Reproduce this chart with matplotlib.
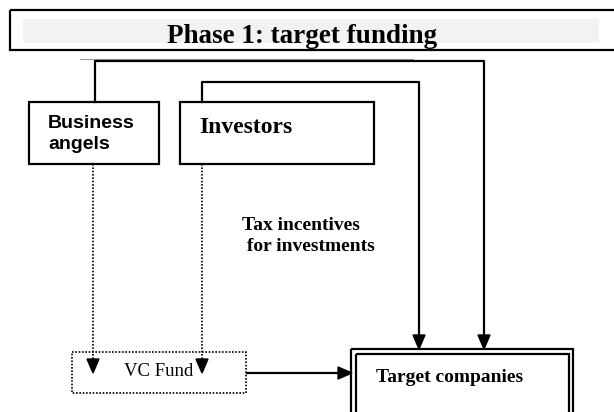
"""
Diagrama: Phase 1 - target funding
"""

import matplotlib.pyplot as plt
from matplotlib.patches import Rectangle, Polygon

# Textos do diagrama
titulo = 'Phase 1: target funding'
fontes = ['Business\nangels', 'Investors']
fundo = 'VC Fund'
alvo = 'Target companies'
incentivo = 'Tax incentives\n for investments'

fig = plt.figure(figsize=(6.14, 4.12), dpi=100)
ax = fig.add_axes([0, 0, 1, 1])
ax.set_xlim(0, 614)
ax.set_ylim(412, 0)
ax.axis('off')

serif = 'Liberation Serif'
sans = 'Liberation Sans'


def seta(x, y):
    # cabeça de seta apontando para baixo, ponta em (x, y)
    ax.add_patch(Polygon([(x - 6, y - 14), (x + 6, y - 14), (x, y)], closed=True,
                         color='black', zorder=3))


def seta_dir(x, y):
    ax.add_patch(Polygon([(x - 14, y - 6), (x - 14, y + 6), (x, y)], closed=True,
                         color='black', zorder=3))


# Caixa do título
ax.add_patch(Rectangle((10, 10), 620, 40, fill=False, lw=1.6, ec='black'))
ax.add_patch(Rectangle((23, 19), 576, 24, fc='#f2f2f2', ec='none'))
ax.text(302, 36, titulo, ha='center', va='center', fontsize=19.5,
        fontweight='bold', family=serif)
ax.plot([80, 413], [58.5, 58.5], color='#999999', lw=0.8)

# Caixas das fontes
ax.add_patch(Rectangle((29, 102), 130, 62, fill=False, lw=1.6, ec='black'))
ax.add_patch(Rectangle((180, 102), 194, 62, fill=False, lw=1.6, ec='black'))
ax.text(48, 134, fontes[0], ha='left', va='center', fontsize=14,
        fontweight='bold', family=sans, linespacing=1.35)
ax.text(199, 127, fontes[1], ha='left', va='center', fontsize=17,
        fontweight='bold', family=serif)

# Conexões diretas para as empresas-alvo
ax.plot([95, 95, 484, 484], [102, 61, 61, 340], color='black', lw=1.6)
ax.plot([202, 202, 419, 419], [102, 82, 82, 340], color='black', lw=1.6)
seta(484, 349)
seta(419, 349)

# Conexões pontilhadas para o fundo
ax.plot([93, 93], [164, 362], color='black', lw=1.2, ls=(0, (1, 1)))
ax.plot([202, 202], [164, 362], color='black', lw=1.2, ls=(0, (1, 1)))
seta(93, 373)
seta(202, 373)

# Caixa do fundo
ax.add_patch(Rectangle((72, 352), 174, 41, fill=False, lw=1.2, ec='black',
                       ls=(0, (1, 1))))
ax.text(159, 372, fundo, ha='center', va='center', fontsize=13.5, family=serif)
ax.plot([247, 340], [373, 373], color='black', lw=1.6)
seta_dir(352, 373)

# Caixa das empresas-alvo (borda dupla)
ax.add_patch(Rectangle((351, 349), 222, 80, fill=False, lw=1.6, ec='black'))
ax.add_patch(Rectangle((355.5, 353.5), 213, 70, fill=False, lw=1.6, ec='black'))
ax.text(376, 377, alvo, ha='left', va='center', fontsize=14,
        fontweight='bold', family=serif)

# Texto do incentivo
ax.text(242, 236, incentivo, ha='left', va='center', fontsize=14,
        fontweight='bold', family=serif, linespacing=1.3)

fig.savefig('out.png', dpi=100)
